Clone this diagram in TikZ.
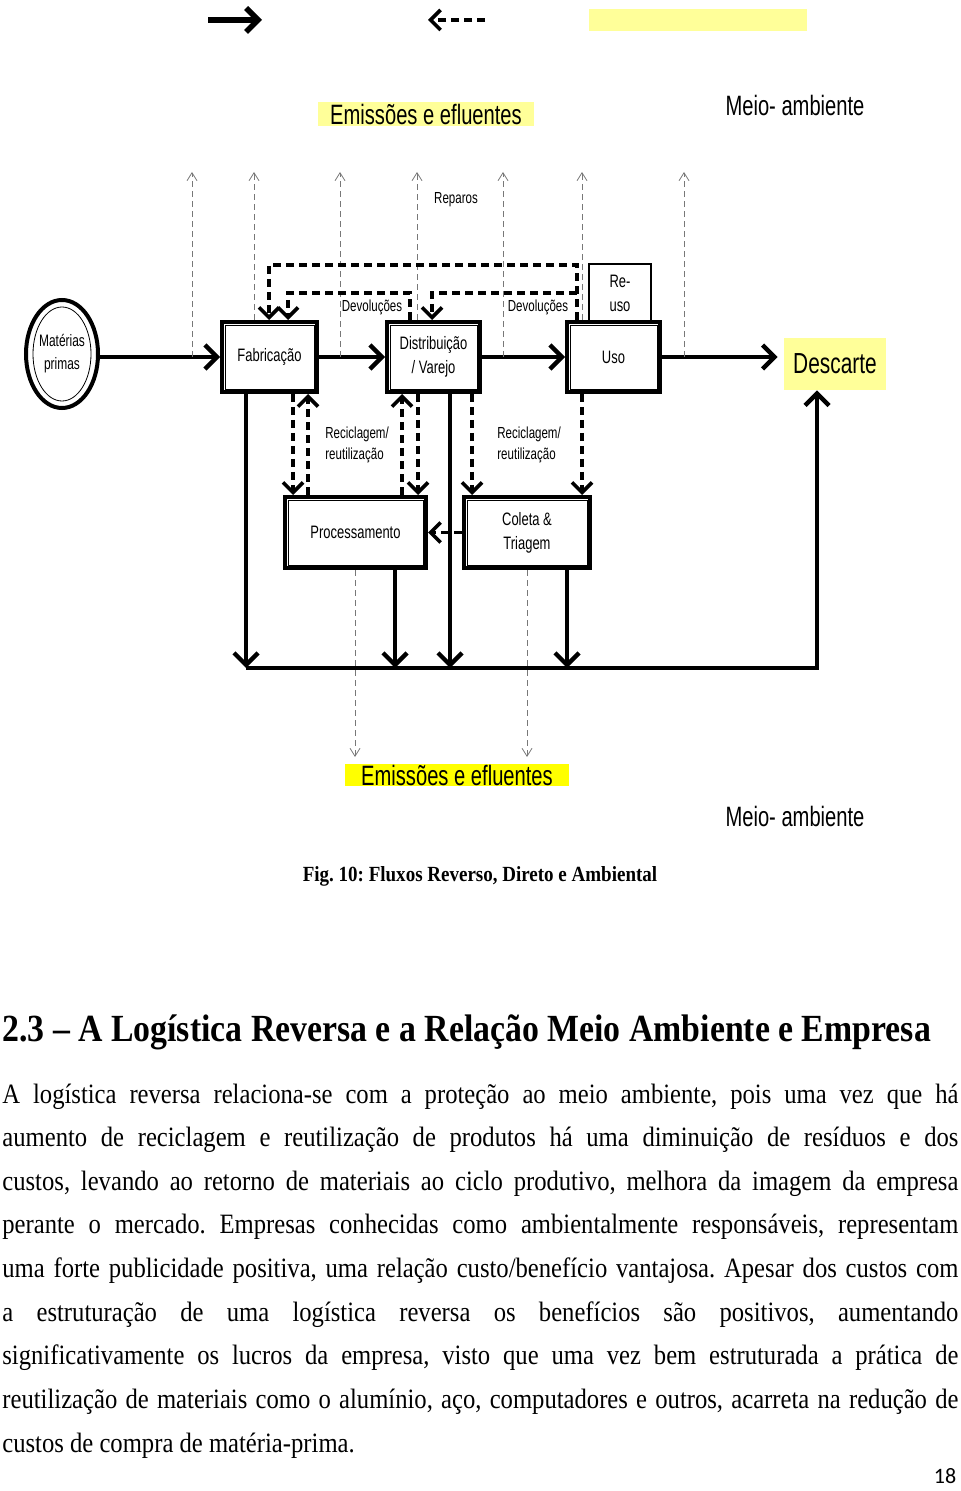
\documentclass[tikz,border=0pt]{standalone}
\usepackage{fontspec}
\setmainfont{Liberation Serif}[FakeStretch=0.88]
\newfontfamily\diagfont{Liberation Sans}[FakeStretch=0.72]
\newfontfamily\numfont{Carlito}
\usepackage{xcolor}
\usetikzlibrary{arrows.meta}
\usetikzlibrary{shapes.geometric}

\definecolor{paleyellow}{RGB}{255,255,153}
\definecolor{brightyellow}{RGB}{255,255,0}
\definecolor{emisgray}{RGB}{120,120,120}

\begin{document}
\frenchspacing
\begin{tikzpicture}[x=0.5pt,y=-0.5pt,>={Straight Barb[length=6pt,width=12pt]},
  box/.style={draw,line width=2pt,inner sep=0,align=center,font=\diagfont\fontsize{9}{12}\selectfont},
  flow/.style={line width=2.2pt,->},
  ret/.style={line width=1.8pt,dash pattern=on 4pt off 2.5pt,->,>={Straight Barb[length=5pt,width=10pt]}},
  emis/.style={emisgray,thin,dash pattern=on 3pt off 2pt,->,>={Straight Barb[length=4pt,width=5pt]}},
  small/.style={inner sep=0,align=left,font=\diagfont\fontsize{8}{10.5}\selectfont},
  big/.style={inner sep=0,font=\diagfont\fontsize{14}{16}\selectfont},
  body/.style={anchor=base west,inner sep=0,font=\fontsize{14}{16}\selectfont}]
\useasboundingbox (0,0) rectangle (960,1491);

% legenda
\coordinate (la) at (208,20);
\coordinate (lb) at (262,20);
\coordinate (lc) at (485,20);
\coordinate (ld) at (428,20);
\draw[flow,line width=2.8pt] (la) -- (lb);
\draw[ret] (lc) -- (ld);
\fill[paleyellow] (589,9) rectangle (807,31);

\node[big,fill=paleyellow,minimum width=108pt,minimum height=12pt] (emisA) at (426,114) {Emissões e efluentes};
\node[big] (meioA) at (795,105) {Meio- ambiente};

% fluxo direto
\node[ellipse,draw,line width=2pt,minimum width=36pt,minimum height=54pt,inner sep=0,align=center,font=\diagfont\fontsize{8.3}{11.5}\selectfont] (materias) at (62,354) {Matérias\\primas};
\draw[thin] (materias.center) ellipse [x radius=14.5pt,y radius=23.5pt];
\node[box,minimum width=47.5pt,minimum height=35pt] (fabric) at (269.5,357) {Fabricação};
\node[box,minimum width=46.5pt,minimum height=35pt] (distrib) at (433.5,357) {Distribuição\\/ Varejo};
\node[box,minimum width=46.5pt,minimum height=35pt] (uso) at (613.5,357) {Uso};
\node[draw,line width=1pt,inner sep=0,minimum width=31pt,minimum height=29pt,align=center,font=\diagfont\fontsize{9}{12}\selectfont] (reuso) at (620,293) {Re-\\uso};
\node[fill=paleyellow,inner sep=0,minimum width=51pt,minimum height=26pt,font=\diagfont\fontsize{14.5}{16}\selectfont] (descarte) at (835,364) {Descarte};
\node[box,minimum width=70.5pt,minimum height=35.5pt] (process) at (355.5,532.5) {Processamento};
\node[box,minimum width=63pt,minimum height=35.5pt] (coleta) at (527,532.5) {Coleta \&\\Triagem};
\foreach \n in {fabric,distrib,uso,process,coleta}
  \draw[thin] ([shift={(5,5)}]\n.north west) rectangle ([shift={(-5,-5)}]\n.south east);

\draw[flow] (materias.east |- fabric.west) -- (fabric.west);
\draw[flow] (fabric) -- (distrib);
\draw[flow] (distrib) -- (uso);
\draw[flow,shorten >=3pt] (uso.east) -- (uso.east -| descarte.west);

% emissoes para cima
\coordinate (emtop) at (0,172);
\foreach \x/\s in {192/fabric.west,254/fabric.north,340/fabric.east,417/distrib.north,503/distrib.east,582/uso.north,684/uso.east}
  \draw[emis] (\x,0 |- \s) -- (\x,0 |- emtop);
\node[small] (reparos) at (456,200) {Reparos};

% devolucoes
\coordinate (dA) at (577,265);
\coordinate (dB) at (269,265);
\coordinate (dC) at (410,293);
\coordinate (dD) at (288,293);
\coordinate (dE) at (577,293);
\coordinate (dF) at (432,293);
\draw[ret] (dA |- uso.north) -- (dA) -- (dB) -- (dB |- fabric.north);
\draw[ret] (dC |- distrib.north) -- (dC) -- (dD) -- (dD |- fabric.north);
\draw[ret] (dE) -- (dF) -- (dF |- distrib.north);
\node[small] (devA) at (372,307) {Devoluções};
\node[small] (devB) at (538,307) {Devoluções};

% reciclagem
\foreach \x/\a/\b in {293/fabric.south/process.north,308/process.north/fabric.south,402/process.north/distrib.south,418/distrib.south/process.north,472/distrib.south/coleta.north,582/uso.south/coleta.north}
  \draw[ret] (\x,0 |- \a) -- (\x,0 |- \b);
\node[small,anchor=west] (recA) at (325,445) {Reciclagem/\\reutilização};
\node[small,anchor=west] (recB) at (497,445) {Reciclagem/\\reutilização};
\draw[ret] (coleta) -- (process);

% descarte
\coordinate (bA) at (246,668);
\coordinate (bB) at (395,668);
\coordinate (bC) at (450,668);
\coordinate (bD) at (567,668);
\coordinate (bE) at (817,668);
\draw[flow] (bA |- fabric.south) -- (bA);
\draw[flow] (bB |- process.south) -- (bB);
\draw[flow] (bC |- distrib.south) -- (bC);
\draw[flow] (bD |- coleta.south) -- (bD);
\draw[flow] (bA) -- (bE) -- (bE |- descarte.south);

% emissoes para baixo
\coordinate (emlow) at (0,757);
\draw[emis] (355,0 |- process.south) -- (355,0 |- emlow);
\draw[emis] (527,0 |- coleta.south) -- (527,0 |- emlow);
\node[big,fill=brightyellow,minimum width=112pt,minimum height=11pt] (emisB) at (457,775) {Emissões e efluentes};
\node[big] (meioB) at (795,816) {Meio- ambiente};

% texto da pagina
\node[font=\bfseries\fontsize{10.8}{13}\selectfont] (caption) at (480,876) {Fig. 10: Fluxos Reverso, Direto e Ambiental};
\node[anchor=base west,inner sep=0,font=\bfseries\fontsize{19.2}{22}\selectfont] (heading) at (2,1041) {2.3 – A Logística Reversa e a Relação Meio Ambiente e Empresa};
\foreach \txt [count=\i] in {%
  {A logística reversa relaciona-se com a proteção ao meio ambiente, pois uma vez que há},
  {aumento de reciclagem e reutilização de produtos há uma diminuição de resíduos e dos},
  {custos, levando ao retorno de materiais ao ciclo produtivo, melhora da imagem da empresa},
  {perante o mercado. Empresas conhecidas como ambientalmente responsáveis, representam},
  {uma forte publicidade positiva, uma relação custo/benefício vantajosa. Apesar dos custos com},
  {a estruturação de uma logística reversa os benefícios são positivos, aumentando},
  {significativamente os lucros da empresa, visto que uma vez bem estruturada a prática de},
  {reutilização de materiais como o alumínio, aço, computadores e outros, acarreta na redução de}}
  \node[body] (line\i) at (2,{1103+43.6*(\i-1)}) {\makebox[478pt][s]{\txt}};
\node[body] (line9) at (2,1452) {custos de compra de matéria-prima.};
\node[font=\numfont\fontsize{11}{13}\selectfont] (pagenum) at (945,1476) {18};
\end{tikzpicture}
\end{document}
